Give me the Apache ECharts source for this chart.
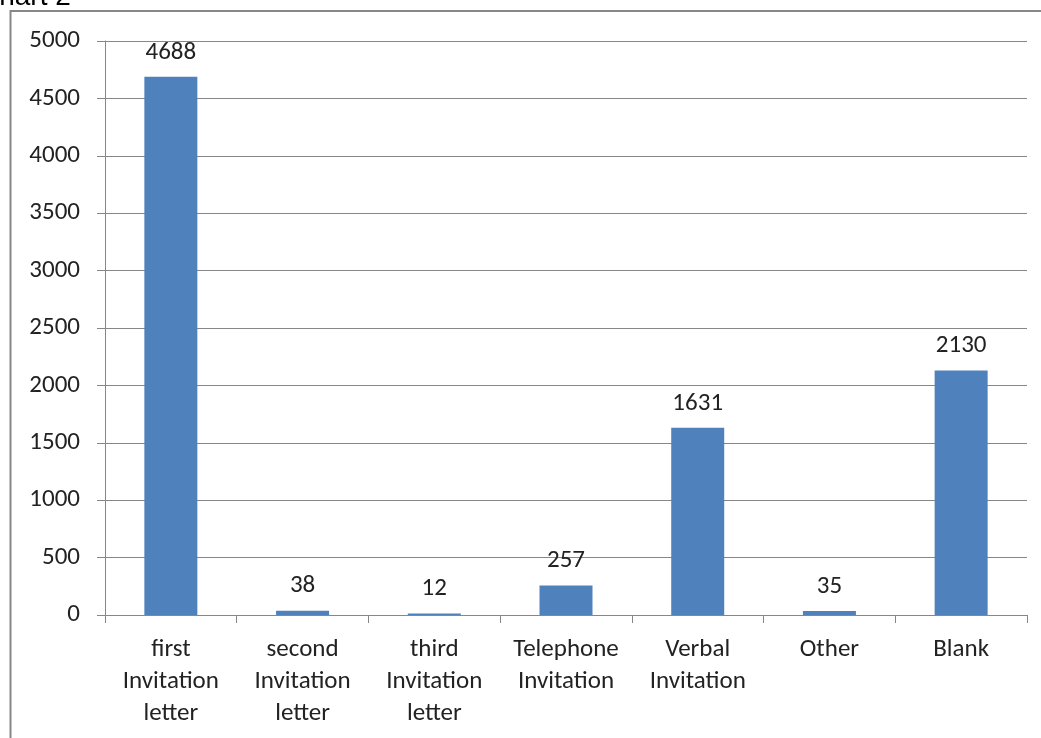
<!DOCTYPE html>
<html>
<head>
<meta charset="utf-8">
<script src="https://cdn.jsdelivr.net/npm/echarts@6/dist/echarts.min.js"></script>
<style>
  html, body { margin: 0; padding: 0; background: #fff; }
  #chart { width: 1041px; height: 738px; }
</style>
</head>
<body>
<div id="chart"></div>
<script>
// Responses by invitation type
const categories = [
  'first\nInvitation\nletter',
  'second\nInvitation\nletter',
  'third\nInvitation\nletter',
  'Telephone\nInvitation',
  'Verbal\nInvitation',
  'Other',
  'Blank'
];
const counts = [4688, 38, 12, 257, 1631, 35, 2130];
const yTicks = { min: 0, max: 5000, interval: 500 };

const font = 'Carlito, Calibri, "Open Sans", "Noto Sans", sans-serif';
const gray = '#878787';
const textColor = '#222';

const chart = echarts.init(document.getElementById('chart'), null, { renderer: 'canvas' });
chart.setOption({
  animation: false,
  grid: { left: 105, right: 14, top: 41, bottom: 123, containLabel: false },
  graphic: [
    {
      type: 'rect',
      shape: { x: 10.5, y: 11, width: 1200, height: 900 },
      style: { fill: 'none', stroke: gray, lineWidth: 2 },
      z: 0
    },
    {
      type: 'text',
      x: -21, y: 11,
      style: {
        text: 'Chart 2',
        font: '28px "Liberation Sans", Arial, sans-serif',
        fill: '#000',
        textVerticalAlign: 'bottom'
      }
    }
  ],
  xAxis: {
    type: 'category',
    data: categories,
    axisLine: { lineStyle: { color: gray, width: 1 } },
    axisTick: { show: true, length: 8, lineStyle: { color: gray } },
    axisLabel: {
      color: textColor,
      fontFamily: font,
      fontSize: 25,
      lineHeight: 32,
      margin: 19,
      interval: 0
    }
  },
  yAxis: {
    type: 'value',
    min: yTicks.min,
    max: yTicks.max,
    interval: yTicks.interval,
    axisLine: { show: true, lineStyle: { color: gray, width: 1 } },
    axisTick: { show: true, length: 8, lineStyle: { color: gray } },
    splitLine: { show: true, lineStyle: { color: gray, width: 1 } },
    axisLabel: {
      color: textColor,
      fontFamily: font,
      fontSize: 25,
      margin: 25,
      formatter: v => String(v)
    }
  },
  series: [{
    type: 'bar',
    data: counts,
    barWidth: 53,
    itemStyle: { color: '#4F81BD' },
    label: {
      show: true,
      position: 'top',
      distance: 12,
      color: textColor,
      fontFamily: font,
      fontSize: 25
    }
  }]
});
</script>
</body>
</html>
